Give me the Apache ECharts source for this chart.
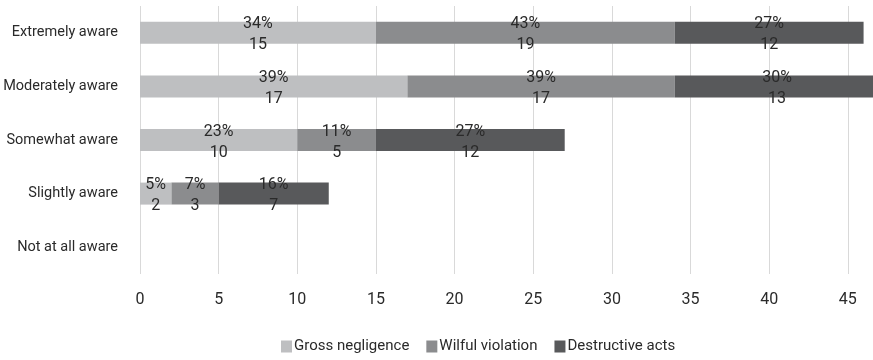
<!DOCTYPE html>
<html>
<head>
<meta charset="utf-8">
<script src="https://cdn.jsdelivr.net/npm/echarts@6/dist/echarts.min.js"></script>
<style>
  html, body { margin: 0; padding: 0; background: #ffffff; }
  #chart { width: 873px; height: 360px; }
</style>
</head>
<body>
<div id="chart"></div>
<script>
// Awareness levels, listed top to bottom
const categories = ['Extremely aware', 'Moderately aware', 'Somewhat aware', 'Slightly aware', 'Not at all aware'];

// Counts per awareness level
const grossNegligence = [15, 17, 10, 2, 0];
const wilfulViolation = [19, 17, 5, 3, 0];
const destructiveActs = [12, 13, 12, 7, 0];

// Share of each series' total, as printed on the bars
const grossPct = ['34%', '39%', '23%', '5%', ''];
const wilfulPct = ['43%', '39%', '11%', '7%', ''];
const destructivePct = ['27%', '30%', '27%', '16%', ''];

const seriesNames = ['Gross negligence', 'Wilful violation', 'Destructive acts'];
const seriesColors = ['#bebfc1', '#8b8c8e', '#58595b'];

const FONT = 'Roboto, "DejaVu Sans Condensed", sans-serif';
const TEXT_COLOR = '#2a2a2a';

function makeSeries(name, values, pcts, color) {
  return {
    name: name,
    type: 'bar',
    stack: 'total',
    barWidth: 22,
    itemStyle: { color: color },
    data: values,
    label: {
      show: true,
      position: 'inside',
      offset: [0, 2],
      color: TEXT_COLOR,
      fontFamily: FONT,
      fontSize: 16,
      lineHeight: 21,
      formatter: function (p) {
        if (!p.value) return '';
        return pcts[p.dataIndex] + '\n' + p.value;
      }
    }
  };
}

const chart = echarts.init(document.getElementById('chart'), null, { renderer: 'canvas' });

chart.setOption({
  animation: false,
  backgroundColor: '#ffffff',
  textStyle: { fontFamily: FONT },
  grid: {
    left: 140,
    right: -53.5,
    top: 6,
    bottom: 86,
    outerBoundsMode: 'none',
    containLabel: false
  },
  legend: {
    top: 334,
    left: 276,
    itemWidth: 11,
    itemHeight: 12,
    itemGap: 17,
    icon: 'rect',
    textStyle: { fontFamily: FONT, fontSize: 15, color: TEXT_COLOR, padding: [0, 0, 0, -3] },
    data: seriesNames
  },
  xAxis: {
    type: 'value',
    min: 0,
    max: 50,
    interval: 5,
    axisLine: { show: false },
    axisTick: { show: false },
    axisLabel: {
      fontFamily: FONT,
      fontSize: 16,
      color: TEXT_COLOR,
      margin: 18
    },
    splitLine: { show: true, lineStyle: { color: '#d9d9d9', width: 1 } }
  },
  yAxis: {
    type: 'category',
    inverse: true,
    data: categories,
    axisLine: { show: false },
    axisTick: { show: false },
    axisLabel: {
      fontFamily: FONT,
      fontSize: 14.5,
      color: TEXT_COLOR,
      margin: 22
    }
  },
  series: [
    makeSeries(seriesNames[0], grossNegligence, grossPct, seriesColors[0]),
    makeSeries(seriesNames[1], wilfulViolation, wilfulPct, seriesColors[1]),
    makeSeries(seriesNames[2], destructiveActs, destructivePct, seriesColors[2])
  ]
});
</script>
</body>
</html>
